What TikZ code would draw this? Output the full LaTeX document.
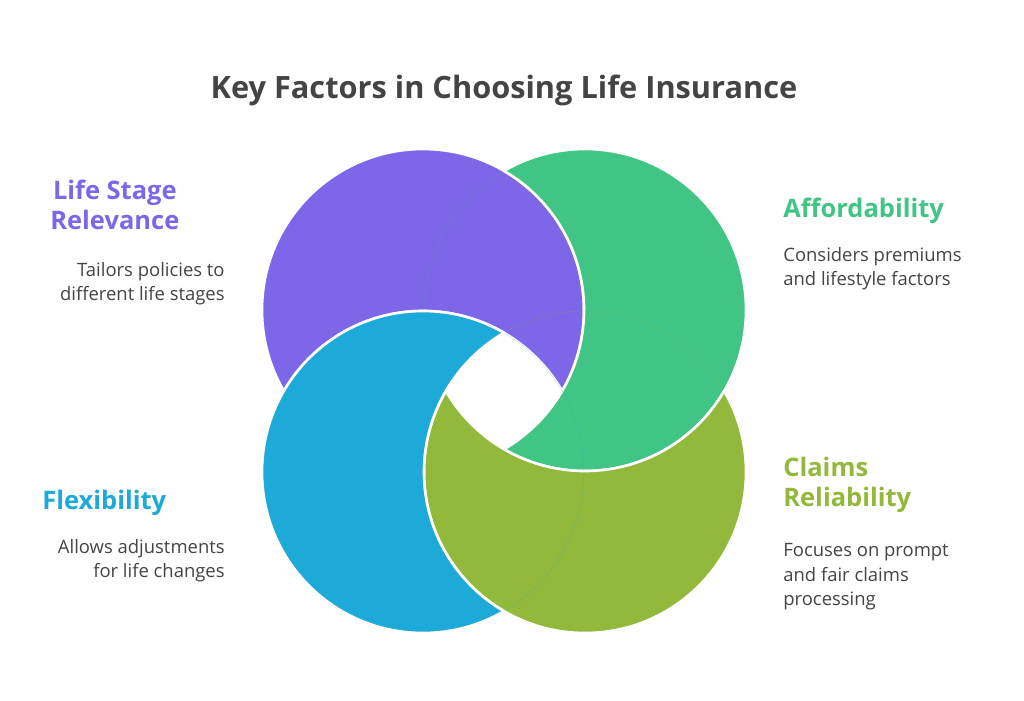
\documentclass[tikz,border=0pt]{standalone}
\usepackage{fontspec}
\setmainfont{Open Sans}
\definecolor{txtgray}{HTML}{444444}
\definecolor{cpurple}{HTML}{7D66E8}
\definecolor{cgreen}{HTML}{40C584}
\definecolor{cblue}{HTML}{1EAAD9}
\definecolor{colive}{HTML}{92B93B}
\tikzset{
    head/.style={font=\fontsize{14.5}{17}\selectfont\bfseries, inner sep=0pt},
    desc/.style={font=\fontsize{10.5}{14}\selectfont, text=txtgray, inner sep=0pt},
}
% crescent: circle #1 minus circle #2
\newcommand{\crescent}[3]{
    \begin{scope}
        \clip (#1) circle (161);
        \fill [#3, even odd rule] (#1) circle (161) (#2) circle (161);
        \draw [white, line width=1.5pt] (#2) circle (161);
    \end{scope}
    \begin{scope}[even odd rule]
        \clip (-100,-100) rectangle (1200,800) (#2) circle (161);
        \draw [white, line width=1.5pt] (#1) circle (161);
    \end{scope}
}

\begin{document}
\begin{tikzpicture}[x=0.02cm, y=-0.02cm]
    \useasboundingbox (0,0) rectangle (1024,700);

    % Centres
    \coordinate (pc) at (423,310);
    \coordinate (gc) at (585,310);
    \coordinate (bc) at (423,472);
    \coordinate (oc) at (585,472);

    % Rings
    \crescent{pc}{bc}{cpurple}
    \crescent{gc}{pc}{cgreen}
    \crescent{oc}{gc}{colive}
    \crescent{bc}{oc}{cblue}

    % Title
    \node [font=\fontsize{17.5}{20}\selectfont\bfseries, text=txtgray] (title) at (504,90) {Key Factors in Choosing Life Insurance};

    % Life stage
    \node [head, text=cpurple, align=center, anchor=north west] (lifehead) at (50,180) {Life Stage\\Relevance};
    \node [desc, align=right, anchor=north east] (lifedesc) at (225,262) {Tailors policies to\\different life stages};

    % Affordability
    \node [head, text=cgreen, anchor=north west] (affhead) at (783,198) {Affordability};
    \node [desc, align=left, anchor=north west] (affdesc) at (783,247) {Considers premiums\\and lifestyle factors};

    % Flexibility
    \node [head, text=cblue, anchor=north west] (flexhead) at (42,490) {Flexibility};
    \node [desc, align=right, anchor=north east] (flexdesc) at (225,539) {Allows adjustments\\for life changes};

    % Claims
    \node [head, text=colive, align=left, anchor=north west] (claimhead) at (783,457) {Claims\\Reliability};
    \node [desc, align=left, anchor=north west] (claimdesc) at (783,543) {Focuses on prompt\\and fair claims\\processing};
\end{tikzpicture}
\end{document}
